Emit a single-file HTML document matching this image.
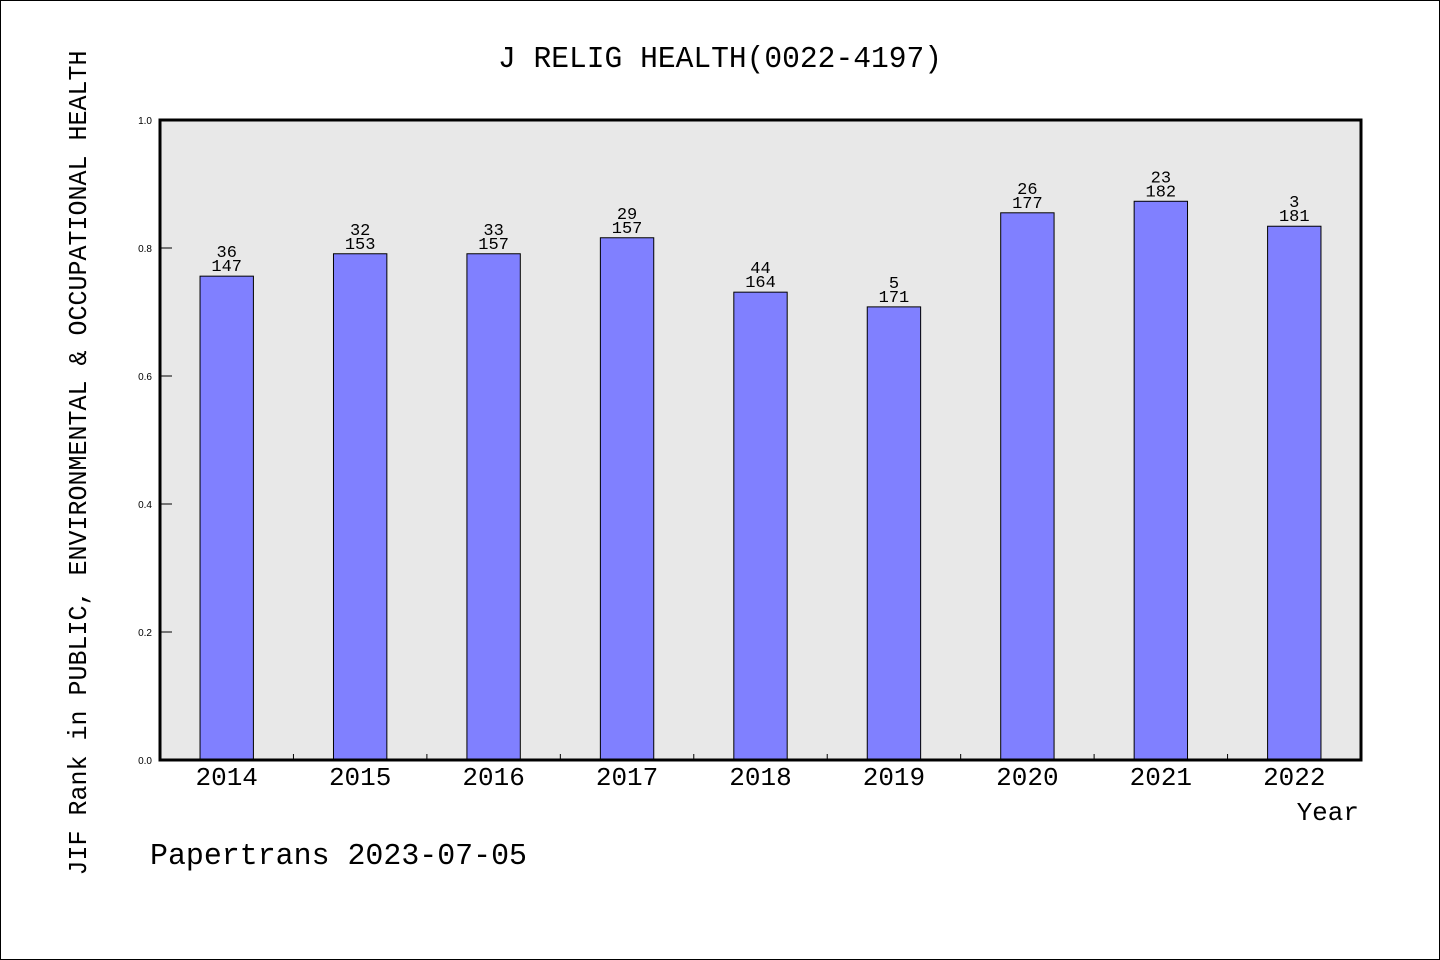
<!DOCTYPE html>
<html><head><meta charset="utf-8"><style>
html,body{margin:0;padding:0;background:#fff;}
svg{display:block;}
text{font-family:"WenQuanYi Zen Hei","Liberation Mono",monospace;fill:#000;}
.tk{font-family:"Liberation Sans",sans-serif;font-size:10px;}
</style></head><body>
<svg id="chart" width="1440" height="960" xmlns="http://www.w3.org/2000/svg">
<rect x="0.5" y="0.5" width="1439" height="959" fill="#fff" stroke="#000"/>
<text x="720" y="67" font-size="31" text-anchor="middle" textLength="444" lengthAdjust="spacingAndGlyphs">J RELIG HEALTH(0022-4197)</text>
<rect x="160" y="120" width="1201" height="640" fill="#e8e8e8"/>
<g id="bars"></g>
<g id="ticks"></g>
<rect x="160" y="120" width="1201" height="640" fill="none" stroke="#000" stroke-width="3"/>
<text x="1359" y="820" font-size="26" text-anchor="end">Year</text>
<text transform="translate(86,463) rotate(-90)" font-size="26" text-anchor="middle" textLength="825" lengthAdjust="spacingAndGlyphs">JIF Rank in PUBLIC, ENVIRONMENTAL &amp; OCCUPATIONAL HEALTH</text>
<text x="150" y="864" font-size="31" textLength="377" lengthAdjust="spacingAndGlyphs">Papertrans 2023-07-05</text>
</svg>
<script>
const categories = ["2014","2015","2016","2017","2018","2019","2020","2021","2022"];
const values = [0.756,0.791,0.791,0.816,0.731,0.708,0.855,0.873,0.834];
const ranks = ["36","32","33","29","44","5","26","23","3"];
const totals = ["147","153","157","157","164","171","177","182","181"];
const yTicks = [0,0.2,0.4,0.6,0.8,1.0];
const yTickLabels = ["0.0","0.2","0.4","0.6","0.8","1.0"];

const NS="http://www.w3.org/2000/svg";
const X0=160,X1=1361,Y0=760,Y1=120;
const band=(X1-X0)/categories.length;
const xC=i=>X0+band*(i+0.5);
const y=v=>Y0-(v)*(Y0-Y1);
function mk(tag,attrs,parent,txt){const e=document.createElementNS(NS,tag);for(const k in attrs)e.setAttribute(k,attrs[k]);if(txt!==undefined)e.textContent=txt;parent.appendChild(e);return e;}
const gb=document.getElementById('bars'),gt=document.getElementById('ticks');
const bw=band*0.4;
categories.forEach((c,i)=>{
  const r=mk('rect',{x:xC(i)-bw/2,y:y(values[i]),width:bw,height:Y0-y(values[i]),fill:'#8080ff',stroke:'#000','stroke-width':1},gb);
  
  
  const t1=mk('text',{x:xC(i),y:y(values[i])-19,'font-size':17,'text-anchor':'middle'},gb,ranks[i]);
  
  
  const t2=mk('text',{x:xC(i),y:y(values[i])-5,'font-size':17,'text-anchor':'middle'},gb,totals[i]);
  
  
  const xl=mk('text',{x:xC(i),y:785,'font-size':26,'text-anchor':'middle'},gt,c);
  
  
  if(i>0){
    const l=mk('line',{x1:X0+band*i,x2:X0+band*i,y1:Y0,y2:Y0-6,stroke:'#000'},gt);
    
    
  }
});
yTicks.forEach((v,i)=>{
  const l=mk('line',{x1:X0,x2:X0+12,y1:y(v),y2:y(v),stroke:'#000'},gt);
  
  
  const t=mk('text',{x:152,y:y(v)+4,'text-anchor':'end',class:'tk'},gt,yTickLabels[i]);
  
  
});
</script>
</body></html>
